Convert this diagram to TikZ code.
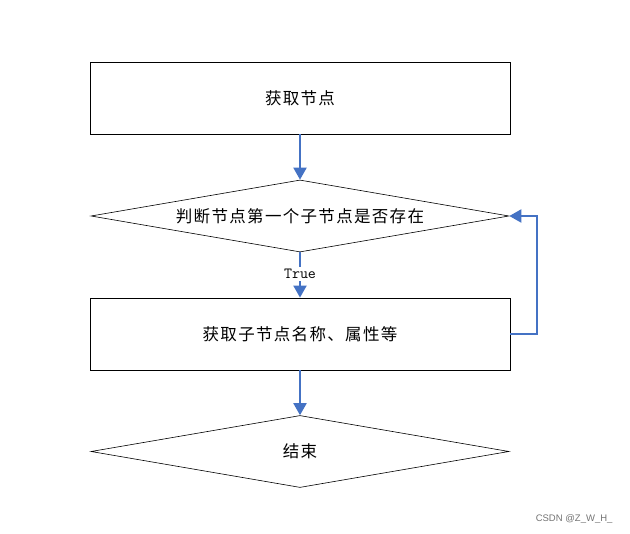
\documentclass[tikz,border=0pt]{standalone}
\usepackage{fontspec}
\newfontfamily\cjk[LetterSpace=8]{Noto Sans CJK SC}
\setsansfont{Liberation Sans}
\usetikzlibrary{arrows.meta,shapes.geometric}
\definecolor{flowblue}{HTML}{4472C4}
\tikzset{
  procbox/.style={draw=black,line width=0.8pt,minimum width=420pt,minimum height=72pt,inner sep=0pt,font=\cjk\fontsize{16.5}{18}\selectfont},
  decbox/.style={draw=black,line width=0.6pt,diamond,aspect=5.8,minimum width=418pt,minimum height=72pt,inner sep=0pt,font=\cjk\fontsize{16.5}{18}\selectfont},
  flow/.style={draw=flowblue,line width=2pt,-{Triangle[width=13pt,length=12pt]}},
  flowline/.style={draw=flowblue,line width=2pt}
}
\begin{document}
\begin{tikzpicture}[x=1pt,y=-1pt]
\useasboundingbox (0,0) rectangle (630,534);
\node[procbox] (get) at (300,98) {获取节点};
\node[decbox] (judge) at (300,216) {判断节点第一个子节点是否存在};
\node[procbox] (child) at (300,334) {获取子节点名称、属性等};
\node[decbox] (end) at (300,451.5) {结束};
\node[font=\ttfamily\fontsize{15.5}{17}\selectfont,inner sep=2pt] (true) at (300,274) {True};
\coordinate (loopc) at (537,334);
\draw[flow] (get.south) -- (judge.north);
\draw[flowline] (judge.south) -- (true.north);
\draw[flow] (true.south) -- (child.north);
\draw[flow] (child.south) -- (end.north);
\draw[flow] (child.east) -- (loopc) |- (judge.east);
\node[font=\sffamily\fontsize{9.5}{11}\selectfont,text=black!55,anchor=east] (mark) at (616,519) {CSDN @Z\_W\_H\_};
\end{tikzpicture}
\end{document}
